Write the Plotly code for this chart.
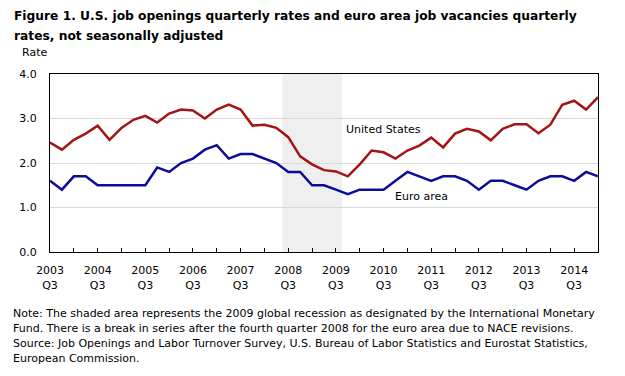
import plotly.graph_objects as go

quarters = []
for y in range(2003, 2016):
    for q in (1, 2, 3, 4):
        quarters.append(f"{y} Q{q}")
quarters = quarters[quarters.index("2003 Q3"):quarters.index("2015 Q1") + 1]

us_rates = [2.46, 2.30, 2.52, 2.66, 2.84, 2.52, 2.79, 2.97, 3.06, 2.91,
            3.11, 3.20, 3.18, 3.00, 3.20, 3.31, 3.20, 2.84, 2.86, 2.79,
            2.58, 2.15, 1.97, 1.84, 1.81, 1.70, 1.97, 2.28, 2.24, 2.10,
            2.28, 2.39, 2.57, 2.35, 2.66, 2.77, 2.71, 2.51, 2.77, 2.87,
            2.87, 2.67, 2.86, 3.31, 3.40, 3.20, 3.48]
euro_rates = [1.6, 1.4, 1.7, 1.7, 1.5, 1.5, 1.5, 1.5, 1.5, 1.9,
              1.8, 2.0, 2.1, 2.3, 2.4, 2.1, 2.2, 2.2, 2.1, 2.0,
              1.8, 1.8, 1.5, 1.5, 1.4, 1.3, 1.4, 1.4, 1.4, 1.6,
              1.8, 1.7, 1.6, 1.7, 1.7, 1.6, 1.4, 1.6, 1.6, 1.5,
              1.4, 1.6, 1.7, 1.7, 1.6, 1.8, 1.7]

tick_quarters = quarters[::2]
tick_text = [q.replace(" ", "<br>") if q.endswith("Q3") else "" for q in tick_quarters]
recession = ("2008 Q3", "2009 Q3")

title_lines = ["Figure 1. U.S. job openings quarterly rates and euro area job vacancies quarterly",
               "rates, not seasonally adjusted"]
note_lines = ["Note: The shaded area represents the 2009 global recession as designated by the International Monetary",
              "Fund. There is a break in series after the fourth quarter 2008 for the euro area due to NACE revisions.",
              "Source: Job Openings and Labor Turnover Survey, U.S. Bureau of Labor Statistics and Eurostat Statistics,",
              "European Commission."]

FONT = "DejaVu Sans"

# plot area in figure pixels
L, T, W, H = 42, 66, 548, 178
FW, FH = 625, 376


def px(xp):
    return (xp - L) / W


def py(yp):
    return (T + H - yp) / H


fig = go.Figure()
fig.add_trace(go.Scatter(x=quarters, y=us_rates, mode="lines", name="United States",
                         line=dict(color="#A51414", width=2.5)))
fig.add_trace(go.Scatter(x=quarters, y=euro_rates, mode="lines", name="Euro area",
                         line=dict(color="#0C0C9C", width=2.5)))

r0 = quarters.index(recession[0]) - 0.5
r1 = quarters.index(recession[1]) + 0.5
fig.add_shape(type="rect", xref="x", yref="y", x0=r0, x1=r1, y0=0, y1=4,
              fillcolor="#EFEFEF", line_width=0, layer="below")

fig.add_annotation(x=quarters.index("2010 Q3"), y=2.75, xref="x", yref="y",
                   text="United States", showarrow=False,
                   font=dict(family=FONT, size=11, color="black"))
fig.add_annotation(x=quarters.index("2011 Q2") + 0.2, y=1.25, xref="x", yref="y",
                   text="Euro area", showarrow=False,
                   font=dict(family=FONT, size=11, color="black"))

fig.add_annotation(x=px(11.7), y=py(44.5), xref="paper", yref="paper",
                   xanchor="left", yanchor="middle", text="Rate", showarrow=False,
                   font=dict(family=FONT, size=11, color="black"))

for line, yc in zip(title_lines, [7.5, 27.8]):
    fig.add_annotation(x=px(3.7), y=py(yc), xref="paper", yref="paper",
                       xanchor="left", yanchor="middle", text=f"<b>{line}</b>",
                       showarrow=False, font=dict(family=FONT, size=12.25, color="black"))

for i, line in enumerate(note_lines):
    fig.add_annotation(x=px(2.7), y=py(305 + 15 * i), xref="paper", yref="paper",
                       text=line, showarrow=False, xanchor="left", yanchor="middle",
                       font=dict(family=FONT, size=11, color="black"))

fig.update_layout(
    width=FW, height=FH,
    margin=dict(l=L, r=FW - L - W, t=T, b=FH - T - H),
    paper_bgcolor="white", plot_bgcolor="white",
    showlegend=False,
    font=dict(family=FONT, size=11, color="black"),
)
fig.update_xaxes(type="category", range=[0, len(quarters) - 1],
                 tickmode="array", tickvals=tick_quarters, ticktext=tick_text,
                 ticks="inside", ticklen=4, tickcolor="black", tickwidth=1,
                 showline=True, linecolor="black", linewidth=1, mirror=True,
                 showgrid=False, tickangle=0, automargin=False, ticklabelstandoff=8,
                 tickfont=dict(family=FONT, size=11))
fig.update_yaxes(range=[0, 4], dtick=1, tickformat=".1f",
                 showline=True, linecolor="black", linewidth=1, mirror=True,
                 showgrid=True, gridcolor="#D9D9D9", gridwidth=1,
                 zeroline=False, ticks="", ticklabelstandoff=10, automargin=False,
                 tickfont=dict(family=FONT, size=11))

fig.write_html("out.html")
